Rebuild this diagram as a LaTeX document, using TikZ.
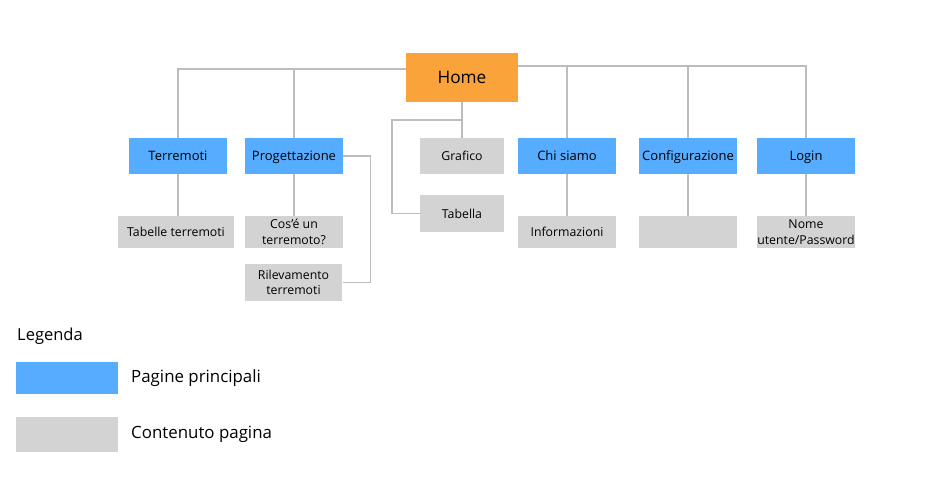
\documentclass[tikz,border=0pt]{standalone}
\usepackage{fontspec}
\setmainfont{Open Sans}
\definecolor{pageB}{RGB}{86,172,255}
\definecolor{pageG}{RGB}{211,211,211}
\definecolor{pageO}{RGB}{250,163,59}
\definecolor{linkG}{RGB}{189,189,189}
\begin{document}
\begin{tikzpicture}[x=0.02cm,y=-0.02cm,
  mainpage/.style={fill=pageB,minimum width=1.96cm,minimum height=0.72cm,inner sep=0pt,text height=1.3ex,text depth=0.3ex,font=\fontsize{7.4}{9}\selectfont},
  content/.style={fill=pageG,minimum width=1.96cm,minimum height=0.64cm,inner sep=0pt,align=center,font=\fontsize{7}{8.8}\selectfont},
  link/.style={draw=linkG,line width=0.9pt}]
\useasboundingbox (0,0) rectangle (925,496);
% pages
\node[fill=pageO,minimum width=2.24cm,minimum height=0.98cm,inner sep=0pt,font=\fontsize{9.8}{11}\selectfont] (home) at (462,77.5) {Home};
\node[mainpage] (terr) at (178,156) {Terremoti};
\node[mainpage] (prog) at (294,156) {Progettazione};
\node[content,minimum width=1.68cm,minimum height=0.72cm] (graf) at (462,156) {Grafico};
\node[mainpage] (chi) at (567,156) {Chi siamo};
\node[mainpage] (conf) at (688,156) {Configurazione};
\node[mainpage] (login) at (806,156) {Login};
% contents
\node[content,minimum width=2.32cm] (tabt) at (176,232) {Tabelle terremoti};
\node[content] (cos) at (294,232) {Cos'é un\\terremoto?};
\node[content,minimum height=0.74cm] (ril) at (293.5,282.5) {Rilevamento\\terremoti};
\node[content,minimum width=1.68cm,minimum height=0.74cm] (tab) at (462,213.5) {Tabella};
\node[content] (info) at (567,232) {Informazioni};
\node[content] (vuoto) at (688,232) {};
\node[content] (nome) at (806,232) {Nome\\utente/Password};
% connectors
\coordinate (hl) at (180,69);
\coordinate (hr) at (807,66);
\coordinate (hb) at (462,120);
\coordinate (tc) at (392,120);
\draw[link] ([yshift=0.17cm]home.west) -| (terr.north);
\draw[link] (prog.north) -- (prog.north |- hl);
\draw[link] ([yshift=0.23cm]home.east) -| (login.north);
\draw[link] (chi.north) -- (chi.north |- hr);
\draw[link] (conf.north) -- (conf.north |- hr);
\draw[link] (home.south) -- (graf.north);
\draw[link] (hb) -- (tc) |- (tab.west);
\draw[link] (terr.south) -- (tabt.north -| terr.south);
\draw[link] (prog.south) -- (cos.north);
\draw[link] (prog.east) -- ++(27,0) |- (ril.east);
\draw[link] (chi.south) -- (info.north);
\draw[link] (conf.south) -- (vuoto.north);
\draw[link] (login.south) -- (nome.north);
% legend
\node[anchor=west,font=\fontsize{9.4}{11}\selectfont] (leg) at (11,336) {Legenda};
\node[fill=pageB,minimum width=2.04cm,minimum height=0.64cm,inner sep=0pt] (legB) at (67,378) {};
\node[anchor=west,font=\fontsize{9.6}{11}\selectfont] (legBt) at (125,378) {Pagine principali};
\node[fill=pageG,minimum width=2.04cm,minimum height=0.70cm,inner sep=0pt] (legG) at (67,434.5) {};
\node[anchor=west,font=\fontsize{9.6}{11}\selectfont] (legGt) at (125,434.5) {Contenuto pagina};
\end{tikzpicture}
\end{document}
